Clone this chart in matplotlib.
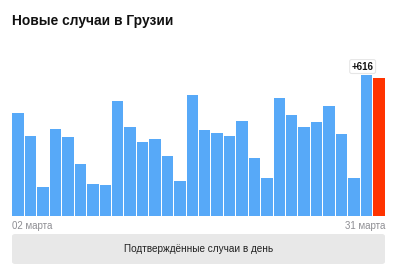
import matplotlib.pyplot as plt
from matplotlib.patches import FancyBboxPatch

# daily new cases, 02..31 March
days = list(range(2, 32))
cases = [461, 357, 129, 388, 354, 232, 143, 137, 515, 396,
         332, 344, 266, 158, 539, 383, 369, 357, 424, 260,
         170, 528, 451, 399, 420, 491, 366, 171, 629, 616]
highlight = "+616"
first_label = "02 марта"
last_label = "31 марта"
title = "Новые случаи в Грузии"
button = "Подтверждённые случаи в день"

W, H = 400, 276
fig = plt.figure(figsize=(W / 100, H / 100), dpi=100)
plt.rcParams['font.family'] = ['Liberation Sans', 'DejaVu Sans']

ax = fig.add_axes([12 / W, (H - 216) / H, 373 / W, 156 / H])
colors = ['#57a9f8'] * (len(days) - 1) + ['#ff3300']
ax.bar(days, cases, width=0.92, color=colors, align='center')
ax.set_xlim(days[0] - 0.5, days[-1] + 0.5)
ax.set_ylim(0, 696)
ax.axis('off')

# tooltip above the last bars
ax.annotate(highlight, xy=(days[-2] - 0.3, cases[-2]), xytext=(0, 2.5),
            textcoords='offset points', ha='center', va='bottom',
            fontsize=7, fontweight='bold', color='#111111',
            bbox=dict(boxstyle='round,pad=0.2', fc='white', ec='#e6e6e6', lw=0.8))

fig.text(12 / W, 1 - 21 / H, title, fontsize=9.9, fontweight='bold',
         color='#111111', va='center', ha='left')
fig.text(12 / W, 1 - 226 / H, first_label, fontsize=7, color='#8e8e93',
         va='center', ha='left')
fig.text(385 / W, 1 - 226 / H, last_label, fontsize=7, color='#8e8e93',
         va='center', ha='right')

btn = FancyBboxPatch((12 / W, (H - 264) / H), 373 / W, 30 / H,
                     boxstyle='round,pad=0,rounding_size=0.008',
                     transform=fig.transFigure, fc='#e8e8e8', ec='none')
fig.patches.append(btn)
fig.text(198.5 / W, 1 - 249 / H, button, fontsize=7.2, color='#222222',
         va='center', ha='center')

fig.savefig('out.png', dpi=100)
